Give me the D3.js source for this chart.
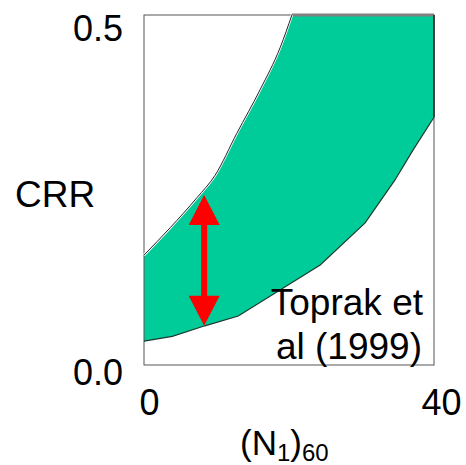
<!DOCTYPE html>
<html>
<head>
<meta charset="utf-8">
<script src="https://cdn.jsdelivr.net/npm/d3@7"></script>
<style>
  body { margin: 0; background: #fff; }
  text { font-family: "Liberation Sans", Arial, sans-serif; fill: #000; }
</style>
</head>
<body>
<svg id="chart"></svg>
<script>
// upper and lower bounds of the band (Toprak et al 1999)
var upperN   = [0, 3.6, 7.3, 9.8, 12.8, 16, 18.8, 20.4];
var upperCRR = [0.157, 0.196, 0.239, 0.271, 0.331, 0.393, 0.454, 0.5];
var lowerN   = [0, 3.9, 8.4, 13, 24.3, 30.5, 34.6, 37.1, 40];
var lowerCRR = [0.034, 0.041, 0.056, 0.07, 0.143, 0.203, 0.264, 0.307, 0.354];
var arrowN = 8.3, arrowLow = 0.056, arrowHigh = 0.243;
var yTicks = [0, 0.5], yTickLabels = ["0.0", "0.5"];
var xTicks = [0, 40];

var margin = { top: 15, right: 32, bottom: 100, left: 144 },
    width = 466 - margin.left - margin.right,
    height = 465 - margin.top - margin.bottom;

var x = d3.scaleLinear().domain([0, 40]).range([0, width]);
var y = d3.scaleLinear().domain([0, 0.5]).range([height, 0]);

var svg = d3.select("#chart")
    .attr("width", 466)
    .attr("height", 465)
    .append("g")
    .attr("transform", "translate(" + margin.left + "," + margin.top + ")");

var upper = upperN.map(function (d, i) { return [d, upperCRR[i]]; });
var lower = lowerN.map(function (d, i) { return [d, lowerCRR[i]]; });

var upperLine = d3.line()
    .x(function (d) { return x(d[0]); })
    .y(function (d) { return y(d[1]); })
    .curve(d3.curveMonotoneX);
var lowerLine = d3.line()
    .x(function (d) { return x(d[0]); })
    .y(function (d) { return y(d[1]); });

var bandPath = upperLine(upper)
    + "L" + x(40) + "," + y(0.5)
    + lowerLine(lower.slice().reverse()).replace(/^M/, "L") + "Z";

svg.append("path")
    .attr("d", bandPath)
    .style("fill", "#00CC99")
    .style("stroke", "none");

// frame
svg.append("rect")
    .attr("width", width)
    .attr("height", height)
    .style("fill", "none")
    .style("stroke", "#555")
    .style("stroke-width", 1);

svg.append("line")
    .attr("x1", x(upperN[upperN.length - 1])).attr("x2", x(40))
    .attr("y1", y(0.5)).attr("y2", y(0.5))
    .style("stroke", "#808080")
    .style("stroke-width", 3);

svg.append("line")
    .attr("x1", x(40)).attr("x2", x(40))
    .attr("y1", y(0.5)).attr("y2", y(lowerCRR[lowerCRR.length - 1]))
    .style("stroke", "#222")
    .style("stroke-width", 1.5);

svg.append("path")
    .attr("d", upperLine(upper))
    .style("fill", "none")
    .style("stroke", "#fff")
    .style("stroke-width", 2.5);
svg.append("path")
    .attr("d", upperLine(upper))
    .style("fill", "none")
    .style("stroke", "#222")
    .style("stroke-width", 1);

svg.append("path")
    .attr("d", lowerLine(lower))
    .style("fill", "none")
    .style("stroke", "#1a3a30")
    .style("stroke-width", 1.2);

// red double arrow
var ax = x(arrowN), head = 30, halfW = 15.5;
svg.append("line")
    .attr("x1", ax).attr("x2", ax)
    .attr("y1", y(arrowHigh) + head - 2).attr("y2", y(arrowLow) - head + 2)
    .style("stroke", "#FF0000")
    .style("stroke-width", 6);
svg.append("path")
    .attr("d", "M" + ax + "," + y(arrowHigh) + "L" + (ax - halfW) + "," + (y(arrowHigh) + head)
        + "L" + (ax + halfW) + "," + (y(arrowHigh) + head) + "Z")
    .style("fill", "#FF0000");
svg.append("path")
    .attr("d", "M" + ax + "," + y(arrowLow) + "L" + (ax - halfW) + "," + (y(arrowLow) - head)
        + "L" + (ax + halfW) + "," + (y(arrowLow) - head) + "Z")
    .style("fill", "#FF0000");

// axes (labels only)
var yAxis = svg.append("g")
    .call(d3.axisLeft(y).tickValues(yTicks).tickSize(0).tickPadding(21)
        .tickFormat(function (d, i) { return yTickLabels[i]; }));
yAxis.select(".domain").remove();
yAxis.selectAll("text")
    .style("font-size", "36px")
    .attr("dy", function (d) { return d === 0 ? "0.55em" : "0.72em"; });

var xAxis = svg.append("g")
    .attr("transform", "translate(0," + height + ")")
    .call(d3.axisBottom(x).tickValues(xTicks).tickSize(0).tickPadding(24));
xAxis.select(".domain").remove();
xAxis.selectAll("text")
    .style("font-size", "36px")
    .attr("dx", function (d) { return d === 0 ? 5 : 7; });

svg.append("text")
    .attr("x", -129)
    .attr("y", 192)
    .style("font-size", "37px")
    .text("CRR");

var xl = svg.append("text")
    .attr("x", 96)
    .attr("y", 440)
    .style("font-size", "35px");
xl.append("tspan").text("(N");
xl.append("tspan").attr("dy", 6).style("font-size", "24px").text("1");
xl.append("tspan").attr("dy", -6).text(")");
xl.append("tspan").attr("dy", 6).style("font-size", "24px").text("60");

svg.append("text")
    .attr("x", 279).attr("y", 300)
    .attr("text-anchor", "end")
    .style("font-size", "37px")
    .text("Toprak et");
svg.append("text")
    .attr("x", 278).attr("y", 344)
    .attr("text-anchor", "end")
    .style("font-size", "37px")
    .text("al (1999)");
</script>
</body>
</html>
